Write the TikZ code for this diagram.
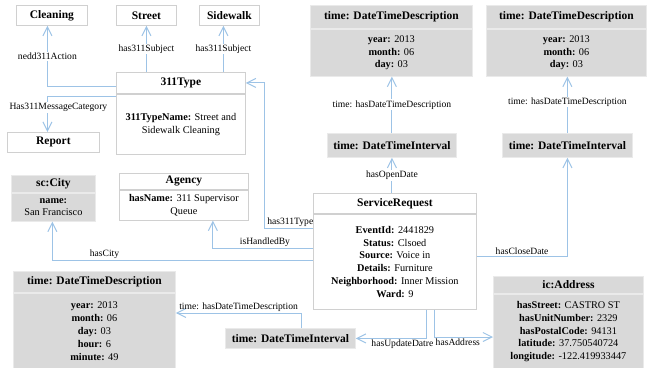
\documentclass[tikz,border=0pt]{standalone}
\usepackage{fontspec}
\setmainfont{Liberation Serif}
\usetikzlibrary{arrows.meta}
\definecolor{linkblue}{HTML}{9DC3E6}
\definecolor{boxline}{HTML}{D0D0D0}
\definecolor{gfill}{HTML}{D9D9D9}
\definecolor{gline}{HTML}{EAEAEA}

\begin{document}
\begin{tikzpicture}[x=1pt,y=-1pt,
  box/.style={draw=boxline,fill=white,line width=.8pt,inner sep=0pt,anchor=north west,align=center},
  gbox/.style={box,draw=gline,fill=gfill},
  ttl/.style={font=\bfseries\fontsize{11.5}{13}\selectfont},
  txt/.style={font=\fontsize{10.3}{12.8}\selectfont},
  lbl/.style={font=\fontsize{9.6}{11}\selectfont,inner sep=1pt},
  link/.style={draw=linkblue,line width=1pt,-{Straight Barb[length=9pt,width=9pt]}}]
\path[use as bounding box] (0,0) rectangle (647,367);

\node[box,ttl,minimum width=71pt,minimum height=20pt] (cln) at (16,5) {Cleaning};
\node[box,ttl,minimum width=60pt,minimum height=20pt] (str) at (116,5) {Street};
\node[box,ttl,minimum width=60pt,minimum height=20pt] (swk) at (199,5) {Sidewalk};
\node[box,ttl,minimum width=129pt,minimum height=21pt] (typ) at (116,72) {311Type};
\node[box,txt,minimum width=129pt,minimum height=60pt] (typb) at (typ.south west) {\textbf{311TypeName:} Street and\\Sidewalk Cleaning};
\node[box,ttl,minimum width=92pt,minimum height=20pt] (rep) at (7,132) {Report};

\node[gbox,ttl,minimum width=162pt,minimum height=23pt] (dtdA) at (310,5) {time: DateTimeDescription};
\node[gbox,txt,minimum width=162pt,minimum height=47pt] (dtdAb) at (dtdA.south west) {\textbf{year:} 2013\\\textbf{month:} 06\\\textbf{day:} 03};
\node[gbox,ttl,minimum width=160pt,minimum height=23pt] (dtdB) at (486,5) {time: DateTimeDescription};
\node[gbox,txt,minimum width=160pt,minimum height=47pt] (dtdBb) at (dtdB.south west) {\textbf{year:} 2013\\\textbf{month:} 06\\\textbf{day:} 03};
\node[gbox,ttl,minimum width=129pt,minimum height=24pt] (dtiA) at (327,133) {time: DateTimeInterval};
\node[gbox,ttl,minimum width=130pt,minimum height=24pt] (dtiB) at (502,133) {time: DateTimeInterval};

\node[gbox,ttl,minimum width=84pt,minimum height=17pt] (city) at (11,175) {sc:City};
\node[gbox,txt,minimum width=84pt,minimum height=28pt] (cityb) at (city.south west) {\textbf{name:}\\San Francisco};
\node[box,ttl,minimum width=129pt,minimum height=16pt] (agy) at (119,173) {Agency};
\node[box,txt,minimum width=129pt,minimum height=30pt] (agyb) at (agy.south west) {\textbf{hasName:} 311 Supervisor\\Queue};

\node[box,ttl,minimum width=163pt,minimum height=20pt] (sr) at (313,193) {ServiceRequest};
\node[box,txt,minimum width=163pt,minimum height=95pt] (srb) at (sr.south west) {\textbf{EventId:} 2441829\\\textbf{Status:} Clsoed\\\textbf{Source:} Voice in\\\textbf{Details:} Furniture\\\textbf{Neighborhood:} Inner Mission\\\textbf{Ward:} 9};

\node[gbox,ttl,minimum width=162pt,minimum height=21pt] (dtdC) at (13,271) {time: DateTimeDescription};
\node[gbox,txt,minimum width=162pt,minimum height=76pt] (dtdCb) at (dtdC.south west) {\textbf{year:} 2013\\\textbf{month:} 06\\\textbf{day:} 03\\\textbf{hour:} 6\\\textbf{minute:} 49};
\node[gbox,ttl,minimum width=130pt,minimum height=20pt] (dtiC) at (225,328) {time: DateTimeInterval};

\node[gbox,ttl,minimum width=150pt,minimum height=17pt] (addr) at (493,276) {ic:Address};
\node[gbox,txt,minimum width=150pt,minimum height=75pt] (addrb) at (addr.south west) {\textbf{hasStreet:} CASTRO ST\\\textbf{hasUnitNumber:} 2329\\\textbf{hasPostalCode:} 94131\\\textbf{latitude:} 37.750540724\\\textbf{longitude:} -122.419933447};

\draw[link] ([yshift=-4pt]typ.west) -| node[lbl,fill=white,pos=.75] {nedd311Action} ([xshift=-4.5pt]cln.south);
\draw[link] ([yshift=-3pt]typb.north west) -| node[lbl,fill=white,pos=.65,xshift=11pt] {Has311MessageCategory} ([xshift=-6pt]rep.north);
\draw[link] (str.south |- typ.north) -- node[lbl,fill=white] {has311Subject} (str.south);
\draw[link] ([xshift=-6pt]swk.south |- typ.north) -- node[lbl,fill=white] {has311Subject} ([xshift=-6pt]swk.south);

\draw[link] (srb.west |- 0,228) -| node[lbl,above,pos=.235] {has311Type} ([xshift=19pt]typ.east) -- (typ.east);
\draw[link] (srb.west |- 0,248) -| node[lbl,above,pos=.24] {isHandledBy} ([xshift=29pt]agyb.south);
\draw[link] (srb.west |- 0,260) -| node[lbl,above,pos=.4] {hasCity} ([xshift=-1pt]cityb.south);

\draw[link] (dtiA.south |- sr.north) -- node[lbl,fill=white] {hasOpenDate} (dtiA.south);
\draw[link] (dtiA.north) -- node[lbl,fill=white] {time: hasDateTimeDescription} (dtiA.north |- dtdAb.south);
\draw[link] (dtiB.north) -- node[lbl,fill=white,pos=.55] {time: hasDateTimeDescription} (dtiB.north |- dtdBb.south);
\draw[link] (srb.east |- 0,256) -| node[lbl,above,pos=.25] {hasCloseDate} (dtiB.south);

\draw[link] ([xshift=31.5pt]srb.south) |- node[lbl,below,pos=.67] {hasUpdateDatre} (dtiC.east);
\draw[link] ([xshift=39.5pt]srb.south) |- node[lbl,below,pos=.7] {hasAddress} (addrb.west |- 0,337);
\draw[link] ([xshift=11pt]dtiC.north) |- node[lbl,above,pos=.75] {time: hasDateTimeDescription} (dtdCb.east |- 0,313);
\end{tikzpicture}
\end{document}
